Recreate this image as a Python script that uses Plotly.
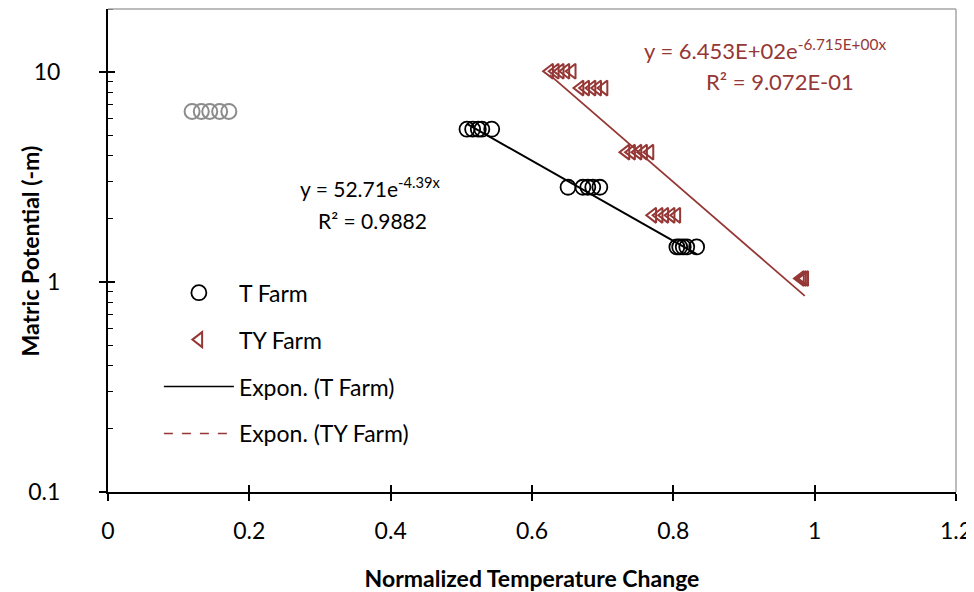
import numpy as np
import plotly.graph_objects as go

# ---- data ----
gray_x = [0.119, 0.132, 0.144, 0.158, 0.171]
gray_y = [6.5, 6.5, 6.5, 6.5, 6.5]

t_x = [0.508, 0.516, 0.524, 0.529, 0.543,
       0.651, 0.672, 0.679, 0.686, 0.696,
       0.805, 0.809, 0.814, 0.819, 0.833]
t_y = [5.35, 5.35, 5.35, 5.35, 5.35,
       2.83, 2.83, 2.83, 2.83, 2.83,
       1.47, 1.47, 1.47, 1.47, 1.47]

ty_x = [0.625, 0.633, 0.640, 0.648, 0.657,
        0.668, 0.676, 0.685, 0.693, 0.702,
        0.733, 0.741, 0.750, 0.758, 0.767,
        0.771, 0.780, 0.788, 0.797, 0.805,
        0.980, 0.983, 0.986]
ty_y = [10.1, 10.1, 10.1, 10.1, 10.1,
        8.4, 8.4, 8.4, 8.4, 8.4,
        4.16, 4.16, 4.16, 4.16, 4.16,
        2.08, 2.08, 2.08, 2.08, 2.08,
        1.04, 1.04, 1.04]

# exponential fit coefficients (as printed on the chart)
t_a, t_b = 52.71, -4.39
ty_a, ty_b = 645.3, -6.715

x_ticks = [0, 0.2, 0.4, 0.6, 0.8, 1, 1.2]
x_tick_labels = ["0", "0.2", "0.4", "0.6", "0.8", "1", "1.2"]
y_ticks = [0.1, 1, 10]
y_tick_labels = ["0.1", "1", "10"]

RED = "#953735"
FONT = "Lato"
FS = 23

t_fx = np.linspace(min(t_x), max(t_x), 100)
t_fy = t_a * np.exp(t_b * t_fx)
ty_fx = np.linspace(min(ty_x), max(ty_x), 100)
ty_fy = ty_a * np.exp(ty_b * ty_fx)

fig = go.Figure()

fig.add_trace(go.Scatter(x=gray_x, y=gray_y, mode="markers", showlegend=False,
                         marker=dict(symbol="circle-open", size=15, color="#8c8c8c",
                                     line=dict(width=2, color="#8c8c8c"))))
fig.add_trace(go.Scatter(x=t_fx, y=t_fy, mode="lines", showlegend=False,
                         line=dict(color="black", width=2)))
fig.add_trace(go.Scatter(x=ty_fx, y=ty_fy, mode="lines", showlegend=False,
                         line=dict(color=RED, width=1.8)))
fig.add_trace(go.Scatter(x=t_x, y=t_y, mode="markers", name="T Farm", legendgroup="a",
                         marker=dict(symbol="circle-open", size=15, color="black",
                                     line=dict(width=1.8, color="black"))))
fig.add_trace(go.Scatter(x=ty_x, y=ty_y, mode="markers", name="TY Farm", legendgroup="b",
                         marker=dict(symbol="triangle-left-open", size=13, color=RED,
                                     line=dict(width=2, color=RED))))
fig.add_trace(go.Scatter(x=[None], y=[None], mode="lines", name="Expon. (T Farm)",
                         legendgroup="c", line=dict(color="black", width=1.5)))
fig.add_trace(go.Scatter(x=[None], y=[None], mode="lines", name="Expon. (TY Farm)",
                         legendgroup="d", line=dict(color=RED, width=1.5, dash="dash")))
# helper trace for the inner halves of the crossing tick marks
fig.add_trace(go.Scatter(x=t_x, y=t_y, xaxis="x2", yaxis="y2", mode="markers",
                         showlegend=False, hoverinfo="skip", marker=dict(opacity=0)))

# page body has an 8px margin, so the figure is 8px smaller and margins shifted
fig.update_layout(
    width=966, height=584,
    margin=dict(l=100, r=18, t=1, b=100),
    paper_bgcolor="white", plot_bgcolor="white",
    font=dict(family=FONT, size=FS, color="black"),
    showlegend=True,
    legend=dict(x=0.06, y=0.457, xanchor="left", yanchor="top",
                bgcolor="rgba(0,0,0,0)", tracegroupgap=14, itemwidth=70,
                font=dict(family=FONT, size=FS)),
    xaxis=dict(range=[0, 1.2], tickvals=x_ticks, ticktext=x_tick_labels,
               automargin=False, ticklabeloverflow="allow",
               showgrid=False, zeroline=False, showline=True, linecolor="black",
               linewidth=2, ticks="outside", ticklen=7, tickwidth=1.5,
               tickcolor="black", ticklabelstandoff=10,
               tickfont=dict(family=FONT, size=FS),
               title=dict(text="<b>Normalized Temperature Change</b>",
                          font=dict(family=FONT, size=FS), standoff=34)),
    yaxis=dict(type="log", range=[-1, np.log10(20)], tickvals=y_ticks,
               ticktext=y_tick_labels, showgrid=False, zeroline=False,
               automargin=False, ticklabeloverflow="allow",
               showline=True, linecolor="black", linewidth=2,
               ticks="outside", ticklen=7, tickwidth=1.5, tickcolor="black",
               ticklabelstandoff=34, tickfont=dict(family=FONT, size=FS),
               minor=dict(ticks="inside", ticklen=5, tickwidth=1.2,
                          tickcolor="black", dtick="D1", showgrid=False)),
    xaxis2=dict(overlaying="x", matches="x", anchor="y", side="bottom",
                automargin=False,
                showticklabels=False, showgrid=False, zeroline=False,
                showline=False, ticks="inside", ticklen=7, tickwidth=1.5,
                tickcolor="black", tickvals=x_ticks),
    yaxis2=dict(overlaying="y", matches="y", type="log", anchor="x", side="left",
                automargin=False,
                showticklabels=False, showgrid=False, zeroline=False,
                showline=False, ticks="inside", ticklen=7, tickwidth=1.5,
                tickcolor="black", tickvals=y_ticks),
    shapes=[
        dict(type="line", xref="paper", yref="paper", x0=0, x1=1, y0=1, y1=1,
             line=dict(color="#a6a6a6", width=1.5)),
        dict(type="line", xref="paper", yref="paper", x0=1, x1=1, y0=0, y1=1,
             line=dict(color="#a6a6a6", width=1.5)),
    ],
    annotations=[
        # y-axis title
        dict(xref="paper", yref="paper", x=-0.092, y=0.5, xanchor="center", yanchor="middle",
             showarrow=False, textangle=-90, text="<b>Matric Potential (-m)</b>",
             font=dict(family=FONT, size=FS, color="black")),
        dict(xref="paper", yref="paper", x=0.309, y=0.632, xanchor="center", yanchor="middle",
             showarrow=False, text="y = 52.71e<sup>-4.39x</sup>",
             font=dict(family=FONT, size=21, color="black")),
        dict(xref="paper", yref="paper", x=0.312, y=0.563, xanchor="center", yanchor="middle",
             showarrow=False, text="R² = 0.9882",
             font=dict(family=FONT, size=21, color="black")),
        dict(xref="paper", yref="paper", x=0.775, y=0.917, xanchor="center", yanchor="middle",
             showarrow=False, text="y = 6.453E+02e<sup>-6.715E+00x</sup>",
             font=dict(family=FONT, size=22, color=RED)),
        dict(xref="paper", yref="paper", x=0.792, y=0.849, xanchor="center", yanchor="middle",
             showarrow=False, text="R² = 9.072E-01",
             font=dict(family=FONT, size=22, color=RED)),
    ],
)

fig.write_html("out.html")
